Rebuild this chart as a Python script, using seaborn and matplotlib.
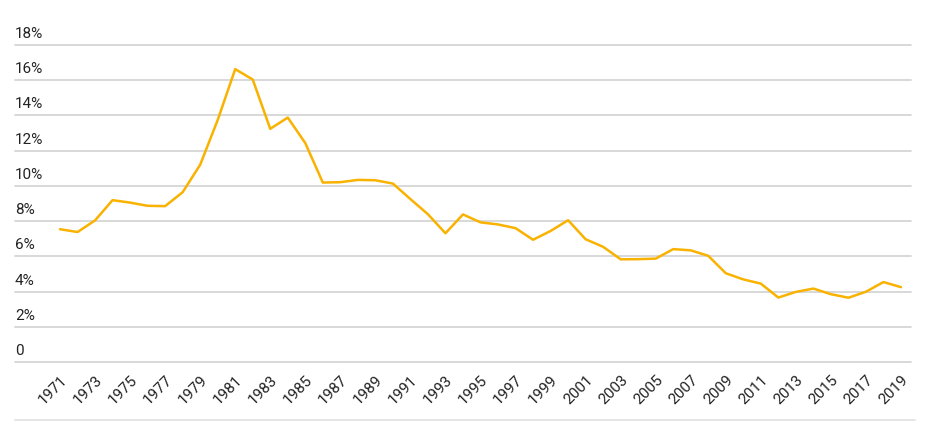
import matplotlib
matplotlib.use("Agg")
import matplotlib.pyplot as plt
import matplotlib.transforms as mtransforms
from matplotlib.lines import Line2D
import seaborn as sns
import pandas as pd

years = list(range(1971, 2020))
rates = [7.54, 7.38, 8.04, 9.19, 9.05, 8.87, 8.85, 9.64, 11.20, 13.74,
         16.63, 16.04, 13.24, 13.88, 12.43, 10.19, 10.21, 10.34, 10.32, 10.13,
         9.25, 8.39, 7.31, 8.38, 7.93, 7.81, 7.60, 6.94, 7.44, 8.05,
         6.97, 6.54, 5.83, 5.84, 5.87, 6.41, 6.34, 6.03, 5.04, 4.69,
         4.45, 3.66, 3.98, 4.17, 3.85, 3.65, 3.99, 4.54, 4.25]
y_ticks = [0, 2, 4, 6, 8, 10, 12, 14, 16, 18]
y_tick_labels = ["0", "2%", "4%", "6%", "8%", "10%", "12%", "14%", "16%", "18%"]
x_ticks = list(range(1971, 2020, 2))

df = pd.DataFrame({"year": years, "rate": rates})

sns.set_theme(style="white")
plt.rcParams["font.family"] = ["Roboto", "DejaVu Sans"]

fig = plt.figure(figsize=(9.36, 4.33), dpi=100)
ax = fig.add_axes([15/936, 1-362/433, (911-15)/936, (362-45)/433])

sns.lineplot(data=df, x="year", y="rate", ax=ax, color="#F9B200", linewidth=1.8)

ax.set_xlim(1971 - 45/17.52, 2019 + 10/17.52)
ax.set_ylim(0, 18)
for s in ax.spines.values():
    s.set_visible(False)

ax.set_yticks(y_ticks)
ax.set_yticklabels([])
ax.tick_params(axis="y", length=0)
ax.yaxis.grid(True, color="#d6d6d6", linewidth=1.3)
ax.xaxis.grid(False)
for gl in ax.get_ygridlines():
    gl.set_clip_on(False)

trans = mtransforms.blended_transform_factory(ax.transAxes, ax.transData)
off = mtransforms.ScaledTranslation(0, 4/100, fig.dpi_scale_trans)
for v, lab in zip(y_ticks, y_tick_labels):
    ax.text(0.0, v, lab, transform=trans + off, ha="left", va="bottom",
            fontsize=11, color="#222222")

ax.set_xticks(x_ticks)
ax.set_xticklabels([str(x) for x in x_ticks], rotation=45, ha="right",
                   va="top", rotation_mode="anchor", fontsize=11, color="#222222")
ax.tick_params(axis="x", length=0, pad=8)
ax.set_xlabel("")
ax.set_ylabel("")

fig.add_artist(Line2D([15/936, 915/936], [1-420/433, 1-420/433],
                      transform=fig.transFigure, color="#e0e0e0", linewidth=1.2))

fig.savefig("out.png", dpi=100)
